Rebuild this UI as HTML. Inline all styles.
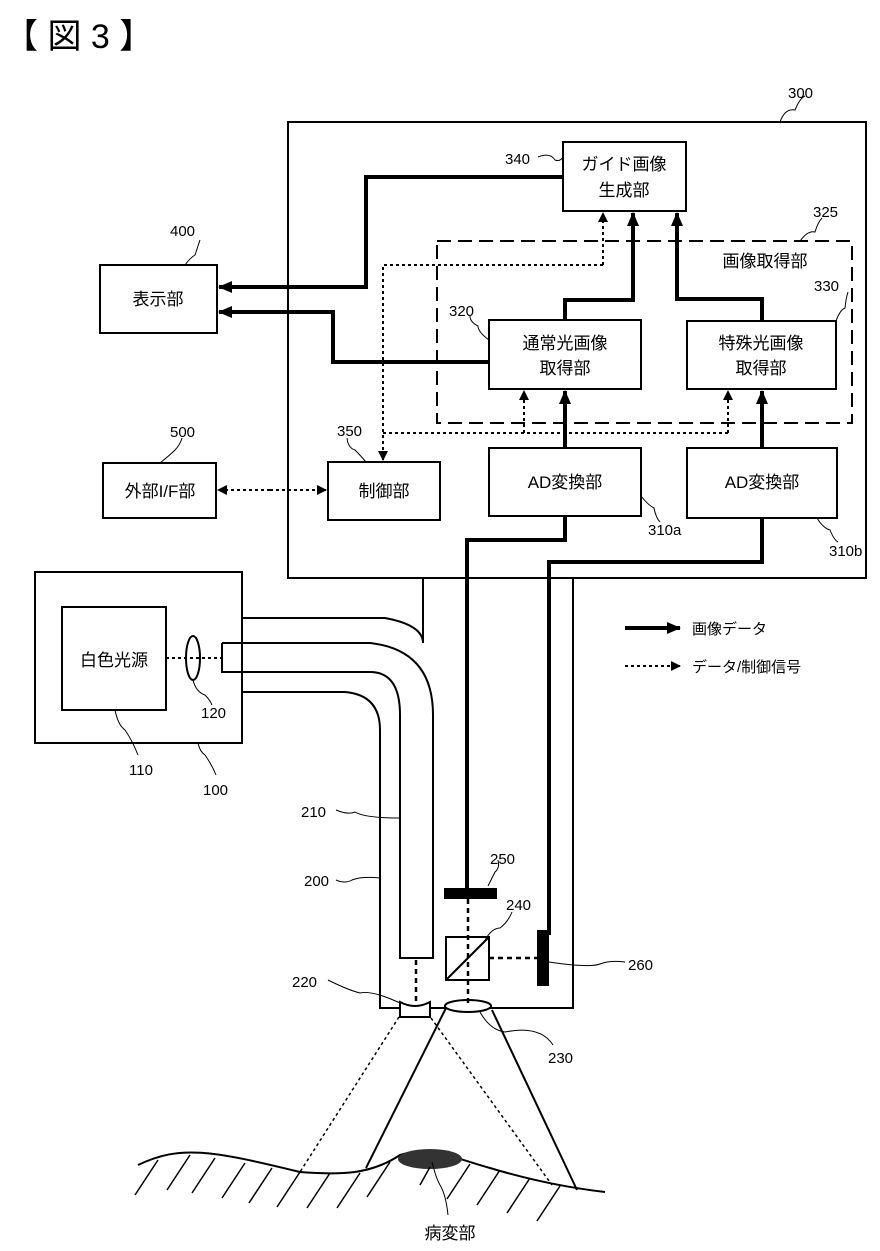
<!DOCTYPE html>
<html><head><meta charset="utf-8"><style>
html,body{margin:0;padding:0;background:#fff}
svg{display:block}
text{font-family:"Liberation Sans","Noto Sans CJK JP",sans-serif;fill:#000}
</style></head><body>
<svg width="880" height="1251" viewBox="0 0 880 1251" xmlns="http://www.w3.org/2000/svg">
<defs>
<marker id="a" markerWidth="10" markerHeight="10" refX="9" refY="5" orient="auto" markerUnits="userSpaceOnUse"><path d="M0,0 L10,5 L0,10 z" fill="#000"/></marker>
<marker id="b" markerWidth="14" markerHeight="12" refX="13" refY="6" orient="auto" markerUnits="userSpaceOnUse"><path d="M0,0 L14,6 L0,12 z" fill="#000"/></marker>
</defs>
<text x="4" y="48" font-size="34">【 図 3 】</text>
<g fill="none" stroke="#000" stroke-width="2">
<rect x="288" y="122" width="578" height="456"/>
<rect x="563" y="142" width="123" height="69"/>
<rect x="489" y="320" width="152" height="69"/>
<rect x="687" y="321" width="149" height="68"/>
<rect x="100" y="265" width="117" height="68"/>
<rect x="103" y="463" width="113" height="55"/>
<rect x="328" y="462" width="112" height="58"/>
<rect x="489" y="448" width="152" height="68"/>
<rect x="687" y="448" width="150" height="70"/>
<rect x="35" y="572" width="207" height="171"/>
<rect x="62" y="607" width="104" height="103"/>
<rect x="437" y="241" width="415" height="182" stroke-dasharray="14,7"/>
</g>
<g font-size="17" text-anchor="middle">
<text x="624" y="170">ガイド画像</text><text x="624" y="196">生成部</text>
<text x="565" y="349">通常光画像</text><text x="565" y="374">取得部</text>
<text x="761" y="349">特殊光画像</text><text x="761" y="374">取得部</text>
<text x="158" y="305">表示部</text>
<text x="160" y="497">外部I/F部</text>
<text x="384" y="497">制御部</text>
<text x="565" y="488">AD変換部</text>
<text x="762" y="488">AD変換部</text>
<text x="114" y="666">白色光源</text>
<text x="765" y="267">画像取得部</text>
<text x="450" y="1239">病変部</text>
</g>
<!-- thick connectors -->
<g fill="none" stroke="#000" stroke-width="4">
<path d="M563,177 H366 V287 H219" marker-end="url(#b)"/>
<path d="M489,362 H333 V312 H219" marker-end="url(#b)"/>
<path d="M565,320 V300 H633 V213" marker-end="url(#b)"/>
<path d="M762,321 V299 H677 V213" marker-end="url(#b)"/>
<path d="M565,448 V391" marker-end="url(#b)"/>
<path d="M762,448 V391" marker-end="url(#b)"/>
<path d="M565,516 V540 H467 V890"/>
<path d="M762,518 V562 H549 V935"/>
<path d="M625,628 H680" marker-end="url(#b)"/>
</g>
<!-- dotted -->
<g fill="none" stroke="#000" stroke-width="2" stroke-dasharray="3,3">
<path d="M603,265 V213" marker-end="url(#a)"/>
<path d="M603,265 H383 V460" marker-end="url(#a)"/>
<path d="M383,433 H728"/>
<path d="M524,433 V391" marker-end="url(#a)"/>
<path d="M728,433 V391" marker-end="url(#a)"/>
<path d="M270,490 H326" marker-end="url(#a)"/>
<path d="M270,490 H218" marker-end="url(#a)"/>
<path d="M625,666 H680" marker-end="url(#a)"/>
<path d="M166,658 H222"/>
</g>
<g font-size="15">
<text x="692" y="634">画像データ</text>
<text x="692" y="672">データ/制御信号</text>
</g>
<!-- scope -->
<g fill="none" stroke="#000" stroke-width="2">
<path d="M242,618 H385 Q423,625 423,643 V578"/>
<path d="M222,643 H370 Q433,650 433,715 V958 H400 V715 Q400,672 370,672 H222 V643"/>
<path d="M242,692 H345 Q380,695 380,730 V1008 H573 V578"/>
<ellipse cx="193" cy="658" rx="7" ry="22"/>
<rect x="446" y="937" width="43" height="43"/>
<path d="M446,980 L489,937"/>
<ellipse cx="468" cy="1006" rx="23" ry="6" fill="#fff"/>
<path d="M400,1002 Q415,1010 430,1002 V1017 H400 Z" fill="#fff"/>
<path d="M446,1008 L366,1168 M492,1010 L577,1190" />
<path d="M138,1165 C180,1145 210,1150 300,1172 C340,1175 370,1175 400,1155 C430,1145 460,1160 490,1168 C530,1180 570,1188 605,1192"/>
</g>
<rect x="444" y="888" width="53" height="11" fill="#000"/>
<rect x="537" y="930" width="12" height="56" fill="#000"/>
<g fill="none" stroke="#000" stroke-width="2.5" stroke-dasharray="5,4">
<path d="M468,899 V1003 M489,958 H537 M416,960 V1002"/>
</g>
<g fill="none" stroke="#000" stroke-width="1.5" stroke-dasharray="3,3">
<path d="M399,1017 L300,1172 M431,1018 L552,1185"/>
</g>
<ellipse cx="430" cy="1159" rx="32" ry="10" fill="#333"/>
<g stroke="#000" stroke-width="1.5">
<path d="M158,1160 L135,1195 M190,1155 L167,1190 M215,1158 L192,1193 M245,1163 L222,1198 M272,1168 L249,1203 M300,1172 L277,1207 M330,1173 L307,1208 M360,1173 L337,1208 M390,1162 L367,1197 M430,1167 L420,1185 M470,1164 L447,1199 M500,1170 L477,1205 M530,1178 L507,1213 M560,1186 L537,1221"/>
</g>
<!-- leader squiggles -->
<g fill="none" stroke="#000" stroke-width="1">
<path d="M780,122 Q785,108 795,110 Q800,98 805,96"/>
<path d="M538,157 Q550,152 555,160 Q560,162 563,157"/>
<path d="M800,241 Q808,230 815,232 Q818,222 822,218"/>
<path d="M836,321 Q840,310 845,308 Q846,298 848,292"/>
<path d="M489,340 Q478,332 478,326 Q470,322 470,316"/>
<path d="M366,462 Q360,455 355,450 Q348,448 347,438"/>
<path d="M160,463 Q170,455 175,450 Q180,445 182,438"/>
<path d="M185,265 Q190,258 195,255 Q198,246 200,240"/>
<path d="M641,496 Q648,505 654,508 Q656,518 660,522"/>
<path d="M817,518 Q823,528 830,530 Q834,540 838,542"/>
<path d="M193,680 Q196,692 205,695 Q210,700 212,705"/>
<path d="M115,710 Q118,725 125,730 Q132,740 138,755"/>
<path d="M198,743 Q200,752 205,755 Q212,765 216,775"/>
<path d="M336,810 Q348,815 355,812 Q365,818 400,818"/>
<path d="M336,880 Q345,884 352,880 Q362,876 380,878"/>
<path d="M488,886 Q493,876 495,872 Q500,868 498,860"/>
<path d="M485,940 Q492,928 500,928 Q508,922 512,912"/>
<path d="M549,962 Q590,968 600,964 Q610,960 625,962"/>
<path d="M328,980 Q348,990 360,993 Q372,990 400,1003"/>
<path d="M480,1012 Q490,1030 505,1032 Q540,1025 553,1045"/>
<path d="M432,1162 Q436,1178 440,1185 Q446,1195 448,1215"/>
</g>
<g font-size="15">
<text x="788" y="98">300</text>
<text x="505" y="164">340</text>
<text x="813" y="217">325</text>
<text x="814" y="291">330</text>
<text x="449" y="316">320</text>
<text x="337" y="436">350</text>
<text x="170" y="437">500</text>
<text x="170" y="236">400</text>
<text x="648" y="535">310a</text>
<text x="829" y="556">310b</text>
<text x="201" y="718">120</text>
<text x="129" y="775">110</text>
<text x="203" y="795">100</text>
<text x="301" y="817">210</text>
<text x="304" y="886">200</text>
<text x="490" y="864">250</text>
<text x="506" y="910">240</text>
<text x="628" y="970">260</text>
<text x="292" y="987">220</text>
<text x="548" y="1063">230</text>
</g>
</svg>
</body></html>
